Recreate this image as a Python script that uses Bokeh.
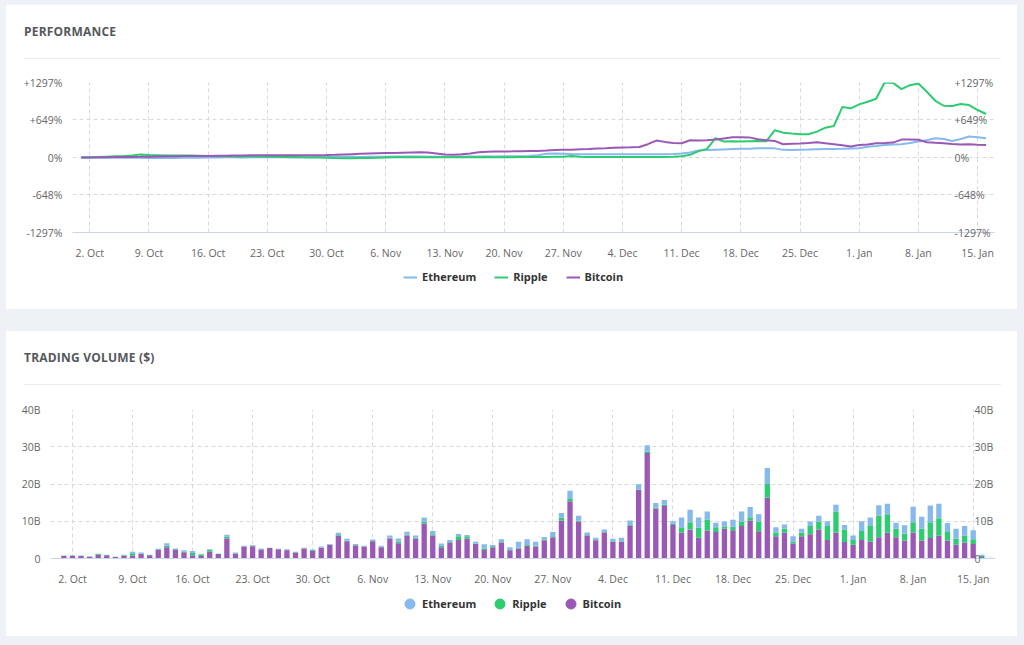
import pandas as pd
from bokeh.plotting import figure
from bokeh.models import Range1d, LinearAxis, FixedTicker, Legend, LegendItem, Div, ColumnDataSource
from bokeh.layouts import column
from bokeh.embed import file_html
from bokeh.resources import INLINE

# ---------------- data ----------------
dates = pd.date_range("2017-10-01", "2018-01-16", freq="D")
series_names = ["Ethereum", "Ripple", "Bitcoin"]

# Performance, % change since 1 Oct
eth_perf = [0, -2, -4, -5, -6, -4, -5, -6, -8, -10, -10, -8, -6, -5, -3, 0, 2, 4, 3, 2,
            4, 5, 6, 5, 3, 2, 4, 6, 8, 10, 12, 14, 12, 10, 12, 14,
            15, 16, 17, 17, 16, 15, 14, 13, 14, 16, 17, 18, 18, 19, 20, 21, 22, 24,
            40, 65, 69, 66, 60, 57, 57, 56, 57, 58, 56, 55, 55, 56, 57, 58, 60, 68,
            86, 120, 130, 135, 140, 145, 150, 152,
            160, 160, 158, 132, 130, 135, 138, 142,
            145, 148, 150, 155, 160, 184, 200, 218,
            225, 230, 250, 276, 300, 333, 320, 287,
            320, 362, 350, 333]
xrp_perf = [0, 5, 10, 15, 20, 25, 35, 52,
            45, 40, 35, 34, 33, 34, 30, 25,
            22, 20, 18, 17, 16, 17, 15, 12,
            10, 8, 5, 2, -2, -6, -10, -11,
            -12, -10, -8, -5, 0, 3, 5, 6,
            6, 5, 4, 3, 4, 5, 6, 6, 7, 6, 5, 6, 7, 8, 9, 10, 12, 14,
            25, 15, 10, 10, 9, 8, 8, 9, 10, 9, 8, 10, 12, 20,
            46, 110, 149, 333, 275, 280, 278, 282,
            285, 280, 470, 430, 413, 400, 402, 448,
            516, 545, 872, 850, 918, 964, 1016, 1297,
            1290, 1182, 1251, 1280, 1136, 981, 895, 890,
            924, 907, 821, 752]
btc_perf = [0, 2, 4, 5, 7, 8, 10, 11,
            14, 17, 20, 22, 24, 25, 26, 28,
            30, 32, 34, 36, 38, 40, 41, 40,
            39, 38, 38, 39, 40, 42, 46, 52,
            58, 64, 70, 74, 76, 78, 84, 88,
            90, 85, 70, 50, 46, 55, 70, 90,
            100, 102, 104, 106, 110, 112, 114, 120,
            128, 132, 136, 142, 148, 155, 162, 170,
            175, 178, 182, 230, 293, 270, 250, 247,
            298, 292, 300, 310, 330, 350, 352, 348,
            316, 300, 287, 230, 236, 241, 250, 264,
            245, 230, 210, 190, 218, 225, 247, 250,
            258, 310, 312, 308, 264, 255, 247, 235,
            225, 228, 222, 218]

# Trading volume, billions of $
btc_vol = [0.7, 0.75, 0.7, 0.45, 1.0, 0.85, 0.4, 0.75, 0.8, 1.2, 0.85, 2.3, 3.0, 2.3, 1.7, 0.9,
           0.7, 1.8, 1.2, 5.4, 1.3, 3.2, 3.3, 2.4, 2.8, 2.5, 2.2, 1.6, 2.7, 2.1, 2.8, 3.6,
           6.1, 4.6, 3.5, 3.2, 4.6, 3.0, 5.4, 4.1, 6.2, 5.4, 9.4, 6.2, 3.0, 4.3, 5.0, 5.4,
           3.9, 2.3, 3.0, 4.3, 2.2, 2.7, 3.4, 3.2, 4.9, 5.7, 10.2, 15.4, 9.9, 6.2, 4.9, 7.0,
           4.5, 4.5, 8.8, 18.4, 28.3, 13.4, 14.1, 9.0, 7.0, 7.8, 5.6, 7.5, 7.1, 8.0, 7.6, 8.7,
           10.2, 7.3, 16.3, 6.0, 6.9, 4.0, 6.0, 6.5, 7.8, 5.0, 6.9, 4.4, 3.7, 5.0, 4.5, 5.7,
           6.9, 5.7, 4.8, 7.0, 4.8, 5.5, 6.1, 4.8, 3.7, 4.3, 3.9, 0.4]
xrp_vol = [0.05, 0.08, 0.05, 0.1, 0.2, 0.1, 0.05, 0.15, 0.6, 0.15, 0.1, 0.15, 0.4, 0.15, 0.2, 0.6,
           0.4, 0.45, 0.05, 0.5, 0.1, 0.1, 0.15, 0.1, 0.05, 0.05, 0.1, 0.05, 0.05, 0.15, 0.1, 0.1,
           0.2, 0.2, 0.15, 0.05, 0.1, 0.15, 0.2, 0.4, 0.2, 0.2, 0.5, 0.3, 0.4, 0.1, 1.0, 0.6,
           0.1, 0.3, 0.3, 0.1, 0.1, 0.2, 0.4, 0.2, 0.2, 0.3, 0.8, 0.6, 0.3, 0.1, 0.1, 0.1,
           0.1, 0.1, 0.2, 0.1, 0.4, 0.3, 0.3, 0.3, 1.2, 1.9, 2.7, 3.0, 1.3, 0.6, 0.9, 1.2,
           0.9, 2.6, 3.7, 1.0, 1.1, 0.5, 0.9, 2.2, 2.1, 3.7, 5.7, 3.4, 1.3, 2.4, 4.2, 5.8,
           5.0, 2.3, 1.9, 2.7, 3.2, 4.2, 4.7, 2.3, 1.6, 1.8, 1.3, 0.3]
eth_vol = [0.05, 0.07, 0.05, 0.05, 0.1, 0.05, 0.05, 0.1, 0.4, 0.25, 0.05, 0.15, 0.7, 0.25, 0.3, 0.5,
           0.2, 0.25, 0.05, 0.5, 0.2, 0.1, 0.15, 0.2, 0.05, 0.05, 0.2, 0.15, 0.15, 0.15, 0.3, 0.2,
           0.6, 0.5, 0.25, 0.15, 0.4, 0.25, 0.6, 0.9, 0.8, 0.6, 1.1, 0.9, 0.6, 0.6, 0.6, 0.3,
           0.5, 1.2, 0.3, 0.8, 0.7, 1.6, 1.4, 1.1, 0.7, 1.1, 1.2, 2.2, 1.3, 0.7, 0.6, 0.7,
           0.7, 1.0, 1.2, 1.4, 1.7, 1.2, 1.3, 0.7, 2.8, 3.4, 2.7, 2.1, 1.2, 1.3, 1.9, 2.7,
           2.7, 2.0, 4.3, 1.4, 1.1, 1.5, 1.1, 1.2, 1.6, 1.3, 1.8, 1.2, 1.2, 2.6, 2.3, 2.8,
           2.8, 1.6, 2.2, 4.2, 3.2, 4.5, 3.9, 2.4, 2.7, 2.6, 2.4, 0.3]

x_tick_dates = pd.date_range("2017-10-02", "2018-01-15", freq="7D")
x_tick_labels = ["2. Oct", "9. Oct", "16. Oct", "23. Oct", "30. Oct", "6. Nov", "13. Nov",
                 "20. Nov", "27. Nov", "4. Dec", "11. Dec", "18. Dec", "25. Dec", "1. Jan",
                 "8. Jan", "15. Jan"]
perf_ticks = [-1297, -648, 0, 649, 1297]
perf_tick_labels = ["-1297%", "-648%", "0%", "+649%", "+1297%"]
vol_ticks = [0, 10, 20, 30, 40]
vol_tick_labels = ["0", "10B", "20B", "30B", "40B"]

# ---------------- styling ----------------
C_ETH = "#86b9ec"
C_XRP = "#2ecc71"
C_BTC = "#9b59b6"
COLORS = [C_ETH, C_XRP, C_BTC]
FONT = "Open Sans"
PAGE_BG = "#eef1f5"
CARD_W = 1011
DAY_MS = 86400000
start_ms = int(dates[0].value // 10**6)
x_ticks = [int(t.value // 10**6) for t in x_tick_dates]


def dms(d):
    return start_ms + d * DAY_MS


def title_div(text):
    html = ('<div style="box-sizing:border-box;width:977px;height:54px;margin:0 16px 0 18px;'
            'padding-top:19px;border-bottom:1px solid #e9ecf1;font-family:\'Open Sans\';'
            'font-weight:bold;font-size:12px;line-height:16px;color:#55585d;'
            'letter-spacing:0.2px;">%s</div>' % text)
    return Div(text=html, width=CARD_W, height=54, margin=0)


def make_fig(height, mbl, mbr, mbt, mbb, xlo, xhi, ylo, yhi):
    p = figure(width=CARD_W, height=height, x_axis_type="datetime",
               x_range=Range1d(dms(xlo), dms(xhi)), y_range=Range1d(ylo, yhi),
               output_backend="svg", toolbar_location=None,
               min_border_left=mbl, min_border_right=mbr,
               min_border_top=mbt, min_border_bottom=mbb)
    p.background_fill_color = "white"
    p.border_fill_color = "white"
    p.outline_line_color = None
    return p


def style_axes(p, y_ticks, y_labels, right_standoff):
    xa = p.xaxis[0]
    xa.ticker = FixedTicker(ticks=x_ticks)
    xa.major_label_overrides = dict(zip(x_ticks, x_tick_labels))
    xa.axis_line_color = "#ccd6eb"
    xa.major_tick_line_color = None
    xa.minor_tick_line_color = None
    xa.major_label_standoff = 7
    xa.major_label_text_font = FONT
    xa.major_label_text_font_size = "10.5px"
    xa.major_label_text_color = "#666666"
    ya = p.yaxis[0]
    ya.ticker = FixedTicker(ticks=y_ticks)
    ya.major_label_overrides = dict(zip(y_ticks, y_labels))
    ya.axis_line_color = None
    ya.major_tick_line_color = None
    ya.minor_tick_line_color = None
    ya.major_label_standoff = 4
    ya.major_label_text_font = FONT
    ya.major_label_text_font_size = "10.5px"
    ya.major_label_text_color = "#666666"
    ra = LinearAxis(ticker=FixedTicker(ticks=y_ticks),
                    major_label_overrides=dict(zip(y_ticks, y_labels)),
                    axis_line_color=None, major_tick_line_color=None,
                    minor_tick_line_color=None, major_label_standoff=right_standoff,
                    major_label_text_font=FONT, major_label_text_font_size="10.5px",
                    major_label_text_color="#666666")
    p.add_layout(ra, "right")
    p.xgrid.ticker = FixedTicker(ticks=x_ticks)
    p.ygrid.ticker = FixedTicker(ticks=y_ticks)
    for g in (p.xgrid, p.ygrid):
        g.grid_line_color = "#d5d9e0"
        g.grid_line_dash = "4 3"
        g.grid_line_width = 1


def legend_fig(height, kind, src, loc, glyph, standoff, spacing):
    """A strip below a chart that only carries its legend (its renderers are hidden)."""
    lf = figure(width=CARD_W, height=height, x_range=Range1d(0, 1), y_range=Range1d(0, 1),
                output_backend="svg", toolbar_location=None,
                x_axis_location=None, y_axis_location=None, min_border=0)
    lf.grid.visible = False
    lf.outline_line_color = None
    lf.background_fill_color = "white"
    lf.border_fill_color = "white"
    if kind == "line":
        rs = [lf.line(x="date", y=n, source=src, color=c, line_width=2, visible=False)
              for n, c in zip(series_names, COLORS)]
    else:
        rs = [lf.scatter(x="date", y=n, source=src, marker="circle", size=10, color=c,
                         visible=False)
              for n, c in zip(series_names, COLORS)]
    leg = Legend(items=[LegendItem(label=n, renderers=[r]) for n, r in zip(series_names, rs)],
                 orientation="horizontal", location=loc, click_policy="none")
    leg.label_text_font = FONT
    leg.label_text_font_style = "bold"
    leg.label_text_font_size = "11px"
    leg.label_text_color = "#333333"
    leg.glyph_width = glyph
    leg.glyph_height = glyph
    leg.label_height = glyph
    leg.label_standoff = standoff
    leg.spacing = spacing
    leg.padding = 0
    leg.margin = 0
    leg.border_line_color = None
    leg.background_fill_alpha = 0
    leg.inactive_fill_alpha = 0
    lf.add_layout(leg, "center")
    return lf


# ---------------- performance chart ----------------
perf_src = ColumnDataSource(dict(date=dates, Ethereum=eth_perf, Ripple=xrp_perf, Bitcoin=btc_perf))
p1 = make_fig(203, 66, 23, 23, 26, -1.04, 108.0, -1297, 1297)
style_axes(p1, perf_ticks, perf_tick_labels, -46)
for n, c in zip(series_names, COLORS):
    p1.line(x="date", y=n, source=perf_src, color=c, line_width=2)
lg1 = legend_fig(47, "line", perf_src, (331, 25), 14, 5, 18)

# ---------------- volume chart ----------------
vol_src = ColumnDataSource(dict(date=dates, Ethereum=eth_vol, Ripple=xrp_vol, Bitcoin=btc_vol))
p2 = make_fig(203, 44, 22, 24, 26, -1.56, 108.6, 0, 40)
style_axes(p2, vol_ticks, vol_tick_labels, -27)
p2.vbar_stack(["Bitcoin", "Ripple", "Ethereum"], x="date", width=0.62 * DAY_MS,
              color=[C_BTC, C_XRP, C_ETH], line_color=None, source=vol_src)
lg2 = legend_fig(48, "circle", vol_src, (347, 20), 25, 0, 11)

card1 = column(title_div("PERFORMANCE"), p1, lg1, spacing=0, styles={"background-color": "white"})
card2 = column(title_div("TRADING VOLUME ($)"), p2, lg2, spacing=0, styles={"background-color": "white"})
inner = column(card1, card2, spacing=22, margin=(5, 0, 0, 6))
page = column(inner, width=1024, height=645, styles={"background-color": PAGE_BG})

open("out.html", "w").write(file_html(page, INLINE))
